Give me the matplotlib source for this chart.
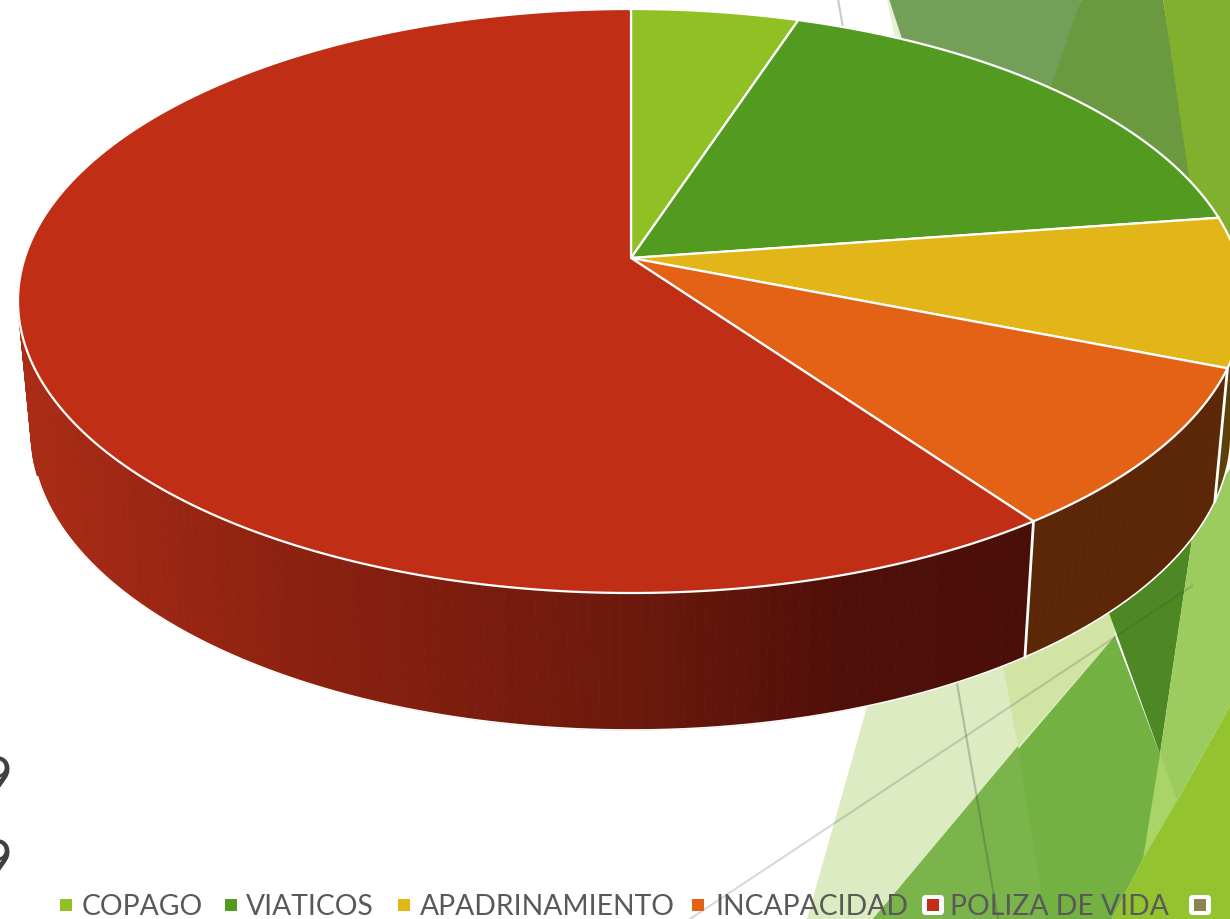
import numpy as np
from matplotlib import pyplot as plt
from matplotlib.patches import Polygon, Rectangle, FancyBboxPatch

categories = ["COPAGO", "VIATICOS", "APADRINAMIENTO", "INCAPACIDAD", "POLIZA DE VIDA"]
values = [4.4, 16.0, 8.3, 9.9, 61.4]
colors = ["#8fc024", "#529b20", "#e2b619", "#e36216", "#bf2e15"]
wall_colors = ["#3a5010", "#2f4c10", "#5c3f08", "#5c2707", None]
legend_colors = ["#8fc024", "#529b20", "#e2b619", "#e36216", "#bf2e15", "#8f8450"]
legend_labels = categories + [""]

# picture coords
top = (631, 302, 613, 292)
bottom = (631, 434, 600, 297)
apex = (631, 259)


def rim(t, e):
    return e[0] + e[2] * np.sin(np.radians(t)), e[1] - e[3] * np.cos(np.radians(t))


plt.rcParams['font.family'] = ['Lato', 'DejaVu Sans']
fig = plt.figure(figsize=(12.3, 9.2), dpi=100)
ax = fig.add_axes([0, 0, 1, 1])
ax.set_xlim(0, 1230)
ax.set_ylim(920, 0)
ax.axis("off")

# background facets
facets = [
    ([(887, 0), (889, 0), (904, 46), (896, 46)], "#e6f0d2"),
    ([(889, 0), (1081, 0), (1050, 110), (904, 46)], "#739f58"),
    ([(1081, 0), (1163, 0), (1195, 200), (1040, 120)], "#6a9940"),
    ([(1163, 0), (1230, 0), (1230, 260), (1195, 220)], "#80b02e"),
    ([(872, 690), (1120, 600), (1115, 637), (873, 920), (807, 920)], "#dcebc1"),
    ([(1000, 650), (1108, 600), (1115, 637), (1018, 747)], "#d2e4a3"),
    ([(873, 920), (1115, 637), (1160, 755), (1177, 802), (1143, 860), (1112, 920)], "#72b142"),
    ([(873, 920), (1018, 747), (1045, 920)], "#7ab44b"),
    ([(1104, 600), (1195, 520), (1160, 755)], "#4e8824"),
    ([(1195, 520), (1230, 470), (1230, 707), (1177, 802), (1160, 755)], "#9ccb5f"),
    ([(1160, 755), (1177, 802), (1143, 860)], "#a9d468"),
    ([(1230, 707), (1177, 802), (1143, 860), (1112, 920), (1230, 920)], "#93c42f"),
]
for pts, c in facets:
    ax.add_patch(Polygon(pts, closed=True, fc=c, ec="none", zorder=1))

ax.plot([838, 998], [0, 920], color="#404040", alpha=0.28, lw=1.5, zorder=2)
ax.plot([690, 1192], [920, 587], color="#404040", alpha=0.2, lw=1.5, zorder=2)

edges = np.cumsum([0] + values) * 3.6

# side wall, back to front
shade_x = [20, 300, 640, 850, 1030]
shade_r = [171, 140, 107, 79, 74]
shade_g = [44, 33, 25, 15, 14]
shade_b = [22, 16, 12, 9, 8]
for i in range(len(values)):
    ts = np.arange(edges[i], edges[i + 1] + 1.0, 1.0)
    for t0, t1 in zip(ts[:-1], ts[1:]):
        if t0 < 70 or t1 > 290:
            continue
        x0, y0 = rim(t0, top)
        x1, y1 = rim(t1, top)
        x2, y2 = rim(t1, bottom)
        x3, y3 = rim(t0, bottom)
        if wall_colors[i] is None:
            xm = (x0 + x3) / 2
            c = (np.interp(xm, shade_x, shade_r) / 255, np.interp(xm, shade_x, shade_g) / 255,
                 np.interp(xm, shade_x, shade_b) / 255)
        else:
            c = wall_colors[i]
        ax.add_patch(Polygon([(x0, y0), (x1, y1), (x2, y2), (x3, y3)], closed=True, fc=c, ec=c, lw=0.6, zorder=3))

# wall outline and the seams
ts = np.arange(90, 262, 0.5)
ax.plot(*rim(ts, bottom), color="white", lw=1.2, zorder=4)
for e in edges[2:5]:
    xa, ya = rim(e, top)
    xb, yb = rim(e, bottom)
    ax.plot([xa, xb], [ya, yb], color="white", lw=2, zorder=4)

# top face
for i in range(len(values)):
    ts = np.linspace(edges[i], edges[i + 1], 200)
    xs, ys = rim(ts, top)
    pts = [apex] + list(zip(xs, ys))
    ax.add_patch(Polygon(pts, closed=True, fc=colors[i], ec="white", lw=1.6, joinstyle="round", zorder=5))

# axis numbers cut off at the edge
ax.text(13, 781, "9", fontsize=41, color="#404040", ha="right", va="center", zorder=6)
ax.text(13, 864, "9", fontsize=41, color="#404040", ha="right", va="center", zorder=6)

# legend
marker_x = [60, 225, 398, 692, 927, 1194]
text_x = [82, 246, 420, 715, 950, 1220]
for c, label, mx, tx in zip(legend_colors, legend_labels, marker_x, text_x):
    if mx > 900:
        ax.add_patch(FancyBboxPatch((mx - 3, 898), 18, 16, boxstyle="round,pad=2,rounding_size=4",
                                    fc="white", ec="none", zorder=6))
    ax.add_patch(Rectangle((mx, 900), 12, 12, fc=c, ec="none", zorder=7))
    if label:
        ax.text(tx, 907, label, fontsize=20.3, color="#595959", ha="left", va="center", zorder=7)

fig.savefig("out.png", dpi=100)
